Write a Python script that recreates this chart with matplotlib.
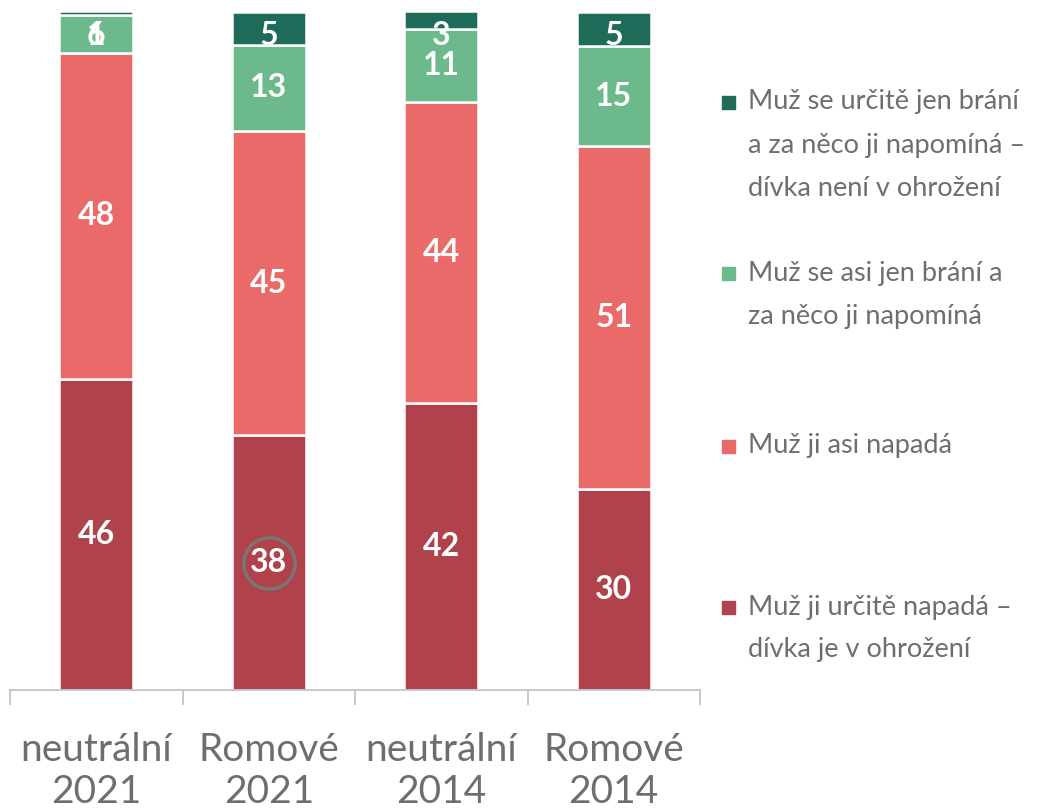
import numpy as np
import matplotlib.pyplot as plt
from matplotlib.patches import Rectangle

# ---- data (segment heights; labels are the rounded values) ----
categories = ["neutrální\n2021", "Romové\n2021", "neutrální\n2014", "Romové\n2014"]
jiste_napada = [45.9, 37.6, 42.3, 29.6]   # Muž ji určitě napadá
asi_napada = [48.1, 44.8, 44.4, 50.6]     # Muž ji asi napadá
asi_brani = [5.5, 12.8, 10.8, 14.8]       # Muž se asi jen brání
jiste_brani = [0.6, 4.8, 2.6, 5.0]        # Muž se určitě jen brání

series_labels = [
    "Muž ji určitě napadá –\ndívka je v ohrožení",
    "Muž ji asi napadá",
    "Muž se asi jen brání a\nza něco ji napomíná",
    "Muž se určitě jen brání\na za něco ji napomíná –\ndívka není v ohrožení",
]
colors = ["#AF424A", "#EA6A69", "#6CBA8B", "#1F6B5A"]
FONT = "Lato"
GRAY = "#6E6E6E"

W, H = 1050, 809
fig = plt.figure(figsize=(W / 100, H / 100), dpi=100)
ax = fig.add_axes([10 / W, 1 - 690 / H, 690 / W, 678 / H])

x = np.arange(len(categories))
series = [jiste_napada, asi_napada, asi_brani, jiste_brani]
bottom = np.zeros(len(categories))
for vals, col in zip(series, colors):
    vals = np.asarray(vals, dtype=float)
    ax.bar(x, vals, bottom=bottom, width=0.43, color=col,
           edgecolor="white", linewidth=1.8, zorder=2)
    for xi, v, b in zip(x, vals, bottom):
        # labels are centred, but pushed down so they stay inside the chart
        yc = min(b + v / 2, 96.6)
        ax.text(xi, yc, f"{v:.0f}", ha="center", va="center", color="white",
                fontsize=23, fontweight="bold", family=FONT, zorder=4)
    bottom += vals

# grey ring around the 38
ax.plot([1], [jiste_napada[1] / 2], marker="o", markersize=37, mfc="none",
        mec="#777777", mew=2.4, zorder=5)

ax.set_xlim(-0.5, len(categories) - 0.5)
ax.set_ylim(0, 100)
ax.set_yticks([])
for s in ["left", "right", "top"]:
    ax.spines[s].set_visible(False)
ax.spines["bottom"].set_color("#BFBFBF")
ax.spines["bottom"].set_linewidth(1.2)

ax.set_xticks(x)
ax.set_xticklabels(categories, fontsize=28, color=GRAY, family=FONT,
                   linespacing=1.22)
ax.tick_params(axis="x", which="major", length=0, pad=30)
ax.set_xticks(np.arange(len(categories) + 1) - 0.5, minor=True)
ax.tick_params(axis="x", which="minor", length=11, color="#BFBFBF", width=1.2)

# legend, drawn by hand to keep the Excel spacing
first_line_y = [607, 446, 273, 102]
pitch = 43
for lab, col, y0 in zip(series_labels, colors, first_line_y):
    fig.patches.append(Rectangle((722 / W, 1 - (y0 + 7) / H), 13 / W, 13 / H,
                                 transform=fig.transFigure, color=col))
    for i, line in enumerate(lab.split("\n")):
        fig.text(748 / W, 1 - (y0 + i * pitch) / H, line, ha="left",
                 va="center", fontsize=19.5, color=GRAY, family=FONT)

fig.savefig("out.png", dpi=100)
